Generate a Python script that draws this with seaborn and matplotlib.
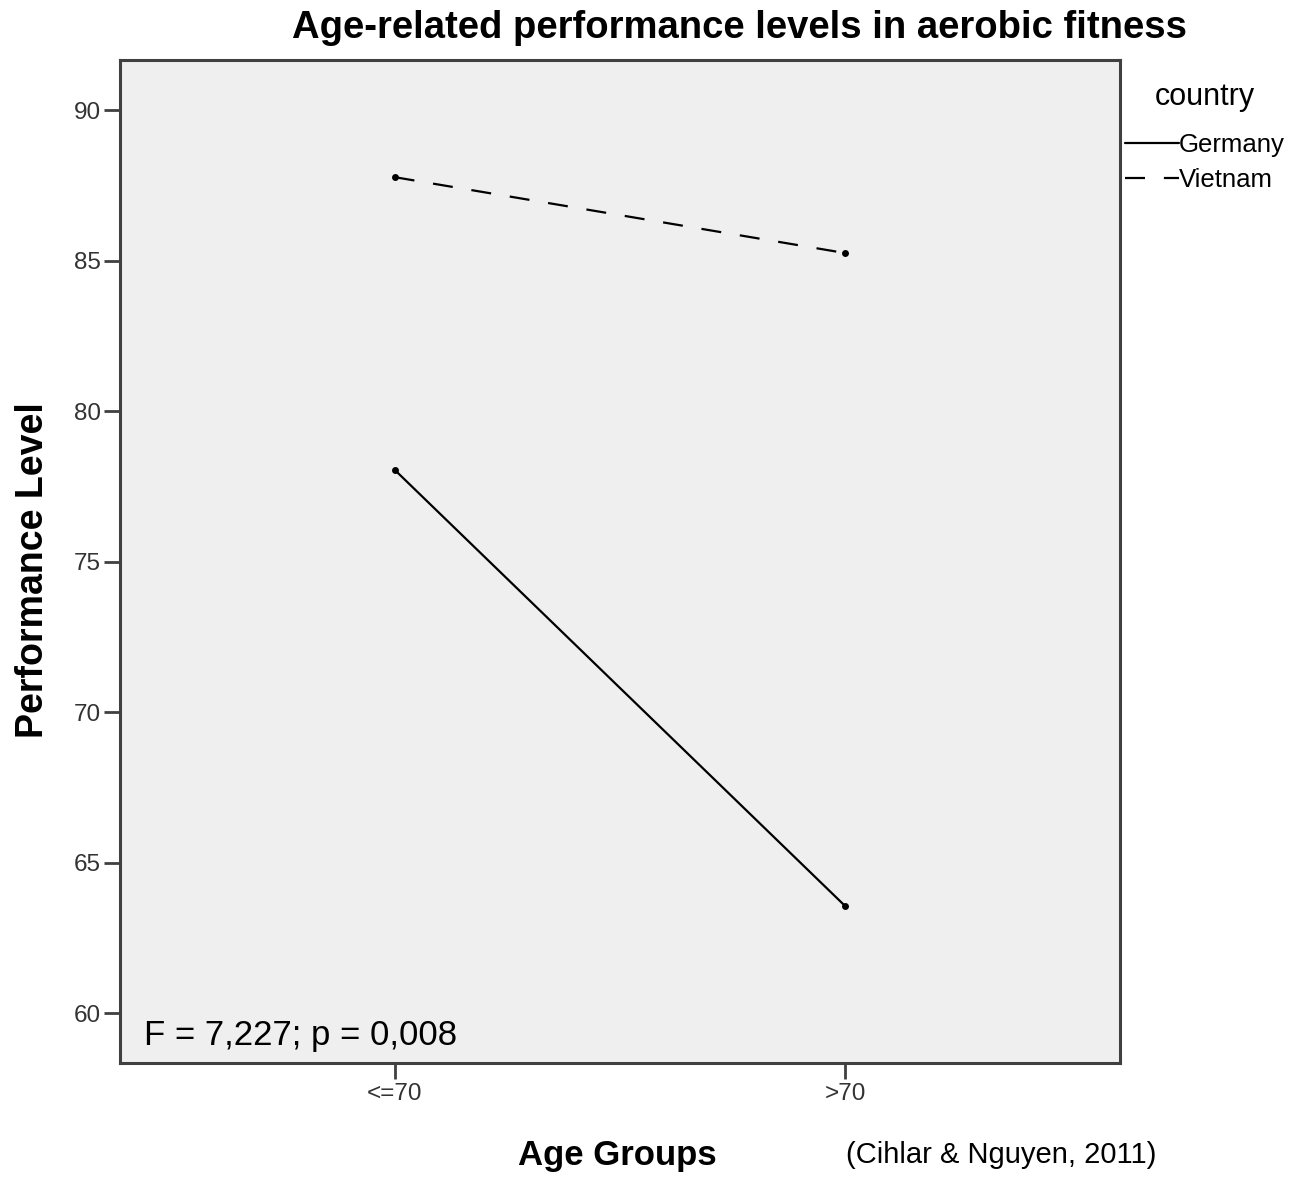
import matplotlib
matplotlib.use("Agg")
import matplotlib.pyplot as plt
import seaborn as sns
import pandas as pd

# Estimated marginal means by age group and country
age_groups = ["<=70", ">70"]
countries = ["Germany", "Vietnam"]
germany_values = [78.05, 63.57]
vietnam_values = [87.77, 85.25]
y_ticks = [60, 65, 70, 75, 80, 85, 90]

df = pd.DataFrame({
    "Age Groups": age_groups * 2,
    "country": ["Germany"] * 2 + ["Vietnam"] * 2,
    "Performance Level": germany_values + vietnam_values,
})

sns.set_theme(style="ticks")
plt.rcParams["font.family"] = ["Liberation Sans", "DejaVu Sans"]
plt.rcParams["text.color"] = "black"
plt.rcParams["axes.labelcolor"] = "black"

fig = plt.figure(figsize=(12.91, 11.77), dpi=100)
ax = fig.add_axes([0.0926, 0.0966, 0.775, 0.8524])
ax.set_facecolor("#efefef")

sns.lineplot(
    data=df, x="Age Groups", y="Performance Level", style="country",
    style_order=countries, dashes={"Germany": "", "Vietnam": (9, 8.5)},
    markers={"Germany": "o", "Vietnam": "o"}, markersize=5,
    color="black", linewidth=1.6, markeredgewidth=0, ax=ax, legend=True,
    sort=False,
)

ax.set_xlim(-0.611, 1.611)
ax.set_ylim(58.34, 91.66)
ax.set_yticks(y_ticks)
ax.set_yticklabels([str(v) for v in y_ticks])

for sp in ax.spines.values():
    sp.set_color("#404040")
    sp.set_linewidth(2.2)
ax.tick_params(axis="both", colors="#404040", width=2, length=11.5,
               labelsize=17.5, labelcolor="#333333")
ax.tick_params(axis="y", pad=2)
ax.tick_params(axis="x", pad=3)

ax.set_xlabel("Age Groups", fontsize=25, fontweight="bold")
ax.set_ylabel("Performance Level", fontsize=27, fontweight="bold")
ax.xaxis.set_label_coords(0.498, -0.0755)
ax.yaxis.set_label_coords(-0.069, 0.4917)

fig.text(0.573, 0.968, "Age-related performance levels in aerobic fitness",
         ha="center", va="baseline", fontsize=27.5, fontweight="bold")

ax.text(0.0245, 0.0182, "F = 7,227; p = 0,008", transform=ax.transAxes,
        fontsize=25, ha="left", va="baseline")
fig.text(0.6553, 0.0119, "(Cihlar & Nguyen, 2011)", fontsize=21,
         ha="left", va="baseline")

# Legend outside the frame, title placed above the entries
handles, labels = ax.get_legend_handles_labels()
leg = ax.legend(handles, labels, loc="upper left",
                bbox_to_anchor=(1125 / 1291, 1 - 133 / 1177),
                bbox_transform=fig.transFigure,
                frameon=False, fontsize=18.5,
                handlelength=2.1, handletextpad=0.0, borderpad=0.0,
                borderaxespad=0.0, labelspacing=0.43)
for line in leg.get_lines():
    line.set_marker("")
    line.set_linewidth(1.6)
fig.text(1205 / 1291, 1 - 97 / 1177, "country", fontsize=22,
         ha="center", va="center")

fig.savefig("out.png", dpi=100)
